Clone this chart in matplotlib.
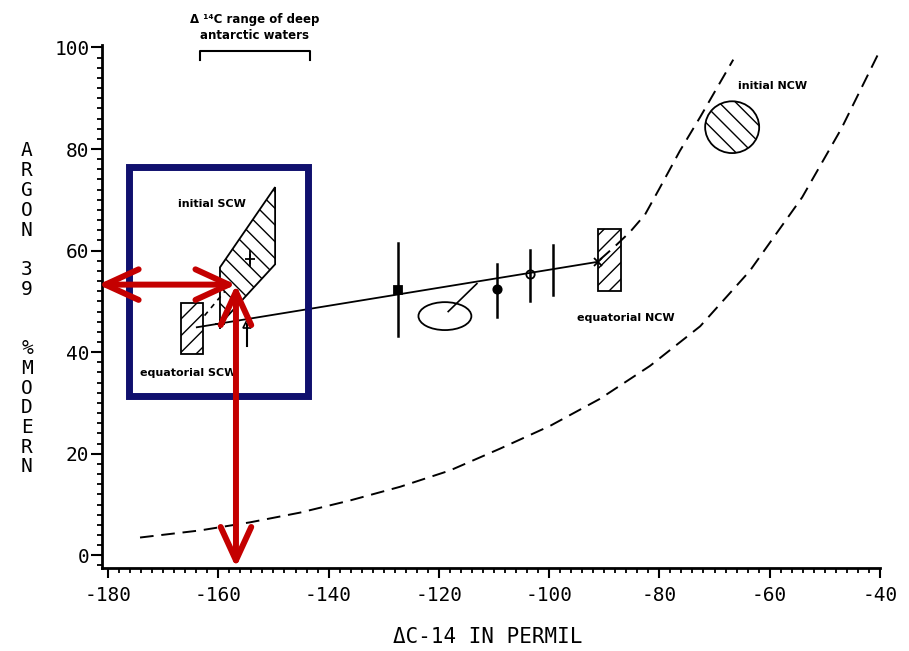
import numpy as np
import matplotlib.pyplot as plt
from matplotlib.patches import Rectangle, Ellipse, Polygon, FancyArrowPatch
from matplotlib.ticker import MultipleLocator

plt.rcParams['axes.unicode_minus'] = False
plt.rcParams['hatch.linewidth'] = 1.0

# model curve (lower dashed)
curve_lo_x = [-174.2, -163.3, -154.2, -145.2, -136.1, -127.0, -118.0, -108.9,
              -99.8, -90.8, -81.7, -72.6, -63.6, -54.1, -47.0, -40.0]
curve_lo_y = [3.5, 4.9, 6.5, 8.4, 10.8, 13.5, 16.7, 21.0,
              25.5, 30.8, 37.3, 45.1, 56.0, 70.5, 84.0, 99.4]

# mixing path from equatorial NCW up to initial NCW
curve_hi_x = [-90.8, -88.1, -85.3, -82.6, -79.9, -76.3, -72.6, -66.6]
curve_hi_y = [58.2, 60.8, 63.7, 67.1, 72.4, 79.6, 86.3, 97.6]

# fitted line through the deep water samples
fit_x = [-163.9, -91.1]
fit_y = [44.9, 57.8]

# samples with argon-39 error bars
pt_x = [-127.4, -109.5, -103.5, -99.3]
pt_y = [52.2, 52.4, 55.3, 56.1]
pt_lo = [43.1, 46.9, 50.0, 51.2]
pt_hi = [61.4, 57.3, 60.2, 61.2]
pt_marker = ['s', 'o', 'o', 'none']
pt_fill = ['full', 'full', 'none', 'full']

# water mass end members
scw_eq_box = (-166.8, 39.6, 4.0, 10.0)          # x, y, w, h
scw_init_x = [-159.7, -149.7, -149.7, -159.7]
scw_init_y = [56.7, 72.5, 57.3, 45.5]
ncw_eq_box = (-91.1, 52.0, 4.1, 12.3)
ncw_init = (-66.8, 84.3, 9.8, 10.2)             # cx, cy, w, h
pacific_ell = (-118.9, 47.1, 9.6, 5.5)
pacific_tie_x = [-118.3, -113.1]
pacific_tie_y = [48.0, 53.5]

# SCW samples
scw_plus_x = [-154.2, -159.7]
scw_plus_y = [58.4, 45.5]
scw_tri = (-154.8, 45.5, 4.3)

# antarctic range bracket
ant_range = [-163.3, -143.4]

# highlight box and read-off arrows
box_x = [-176.2, -143.7]
box_y = [31.4, 76.5]
read_x, read_y = -156.8, 53.3
arrow_left = -181.8
arrow_bottom = -2.4

mono = 'DejaVu Sans Mono'
navy = '#10106e'
red = '#c40000'

fig = plt.figure(figsize=(9.09, 6.51), dpi=100)
ax = fig.add_axes([0.1122, 0.1275, 0.8558, 0.8035])
ax.set_xlim(-181.1, -40)
ax.set_ylim(-2.5, 100.5)

for s in ['top', 'right']:
    ax.spines[s].set_visible(False)
for s in ['left', 'bottom']:
    ax.spines[s].set_linewidth(2)

ax.xaxis.set_major_locator(MultipleLocator(20))
ax.xaxis.set_minor_locator(MultipleLocator(2))
ax.yaxis.set_major_locator(MultipleLocator(20))
ax.yaxis.set_minor_locator(MultipleLocator(2))
ax.tick_params(axis='x', which='major', length=7, width=1.5, pad=6)
ax.tick_params(axis='x', which='minor', length=3.5, width=1.3)
ax.tick_params(axis='y', which='major', length=8, width=1.5, pad=1)
ax.tick_params(axis='y', which='minor', length=3.5, width=1.3)
for lab in ax.get_xticklabels() + ax.get_yticklabels():
    lab.set_fontfamily(mono)
    lab.set_fontsize(14)

# curves
ax.plot(curve_lo_x, curve_lo_y, color='black', lw=1.4, ls=(0, (7, 4)))
ax.plot(curve_hi_x, curve_hi_y, color='black', lw=1.4, ls=(0, (7, 4)))
ax.plot(fit_x, fit_y, color='black', lw=1.3)

for x, y, lo, hi, m, f in zip(pt_x, pt_y, pt_lo, pt_hi, pt_marker, pt_fill):
    ax.plot([x, x], [lo, hi], color='black', lw=1.8)
    if m != 'none':
        ax.plot(x, y, marker=m, ms=6, color='black', fillstyle=f,
                markerfacecolor='black' if f == 'full' else 'white', mew=1.3)

# end members
ax.add_patch(Rectangle(scw_eq_box[:2], scw_eq_box[2], scw_eq_box[3],
                       fill=False, hatch='//', lw=1.3))
ax.add_patch(Polygon(np.column_stack([scw_init_x, scw_init_y]), closed=True,
                     fill=False, hatch='\\\\', lw=1.3))
ax.add_patch(Rectangle(ncw_eq_box[:2], ncw_eq_box[2], ncw_eq_box[3],
                       fill=False, hatch='//', lw=1.3))
ax.add_patch(Ellipse(ncw_init[:2], ncw_init[2], ncw_init[3],
                     fill=False, hatch='\\\\', lw=1.3))
ax.add_patch(Ellipse(pacific_ell[:2], pacific_ell[2], pacific_ell[3],
                     fill=False, lw=1.3))
ax.plot(pacific_tie_x, pacific_tie_y, color='black', lw=1.2)

ax.plot(scw_plus_x, scw_plus_y, ls='none', marker='+', ms=7, mew=1.3,
        color='black')
ax.plot([scw_plus_x[0]] * 2, [scw_plus_y[0] - 1.5, scw_plus_y[0] + 1.5],
        color='black', lw=1.3)
ax.plot(scw_tri[0], scw_tri[1], marker='^', ms=6, mfc='white', mec='black',
        mew=1.2)
ax.plot([scw_tri[0]] * 2, [scw_tri[1] - scw_tri[2], scw_tri[1]],
        color='black', lw=1.5)
ax.plot(fit_x[1], fit_y[1], marker='x', ms=6, mew=1.3, color='black')
ax.plot([-162.5, -158.8], [47.2, 52.0], color='black', lw=1.2, ls=(0, (3, 3)))

# labels inside the plot
lab_kw = dict(fontsize=8, fontweight='bold', va='center', ha='left')
ax.text(-167.3, 69.2, 'initial SCW', **lab_kw)
ax.text(-174.2, 35.9, 'equatorial SCW', **lab_kw)
ax.text(-94.9, 46.7, 'equatorial NCW', **lab_kw)
ax.text(-65.7, 92.5, 'initial NCW', **lab_kw)

mid = sum(ant_range) / 2
ax.text(mid, 105.5, 'Δ ¹⁴C range of deep', fontsize=8.5, fontweight='bold',
        ha='center', va='center', clip_on=False)
ax.text(mid, 102.4, 'antarctic waters', fontsize=8.5, fontweight='bold',
        ha='center', va='center', clip_on=False)
ax.plot([ant_range[0], ant_range[0], ant_range[1], ant_range[1]],
        [97.6, 99.4, 99.4, 97.6], color='black', lw=1.5, clip_on=False)

# highlight box
ax.add_patch(Rectangle((box_x[0], box_y[0]), box_x[1] - box_x[0],
                       box_y[1] - box_y[0], fill=False, ec=navy, lw=5,
                       zorder=5))

# read-off arrows
astyle = '<->,head_length=24,head_width=11'
for a, b in [((arrow_left, read_y), (read_x, read_y)),
             ((read_x, arrow_bottom), (read_x, read_y))]:
    ax.add_patch(FancyArrowPatch(a, b, arrowstyle=astyle, mutation_scale=1,
                                 color=red, lw=4.3, shrinkA=0, shrinkB=0,
                                 clip_on=False, zorder=6))

# axis titles
fig.text(488 / 909, 1 - 637 / 651, 'ΔC-14 IN PERMIL', family=mono,
         fontsize=15, ha='center', va='center')
ylab = 'ARGON 39  %MODERN'
for i, ch in enumerate(ylab):
    if ch != ' ':
        fig.text(27 / 909, 1 - (151 + i * 19.75) / 651, ch, family=mono,
                 fontsize=14, ha='center', va='center')

fig.savefig('out.png', dpi=100)
